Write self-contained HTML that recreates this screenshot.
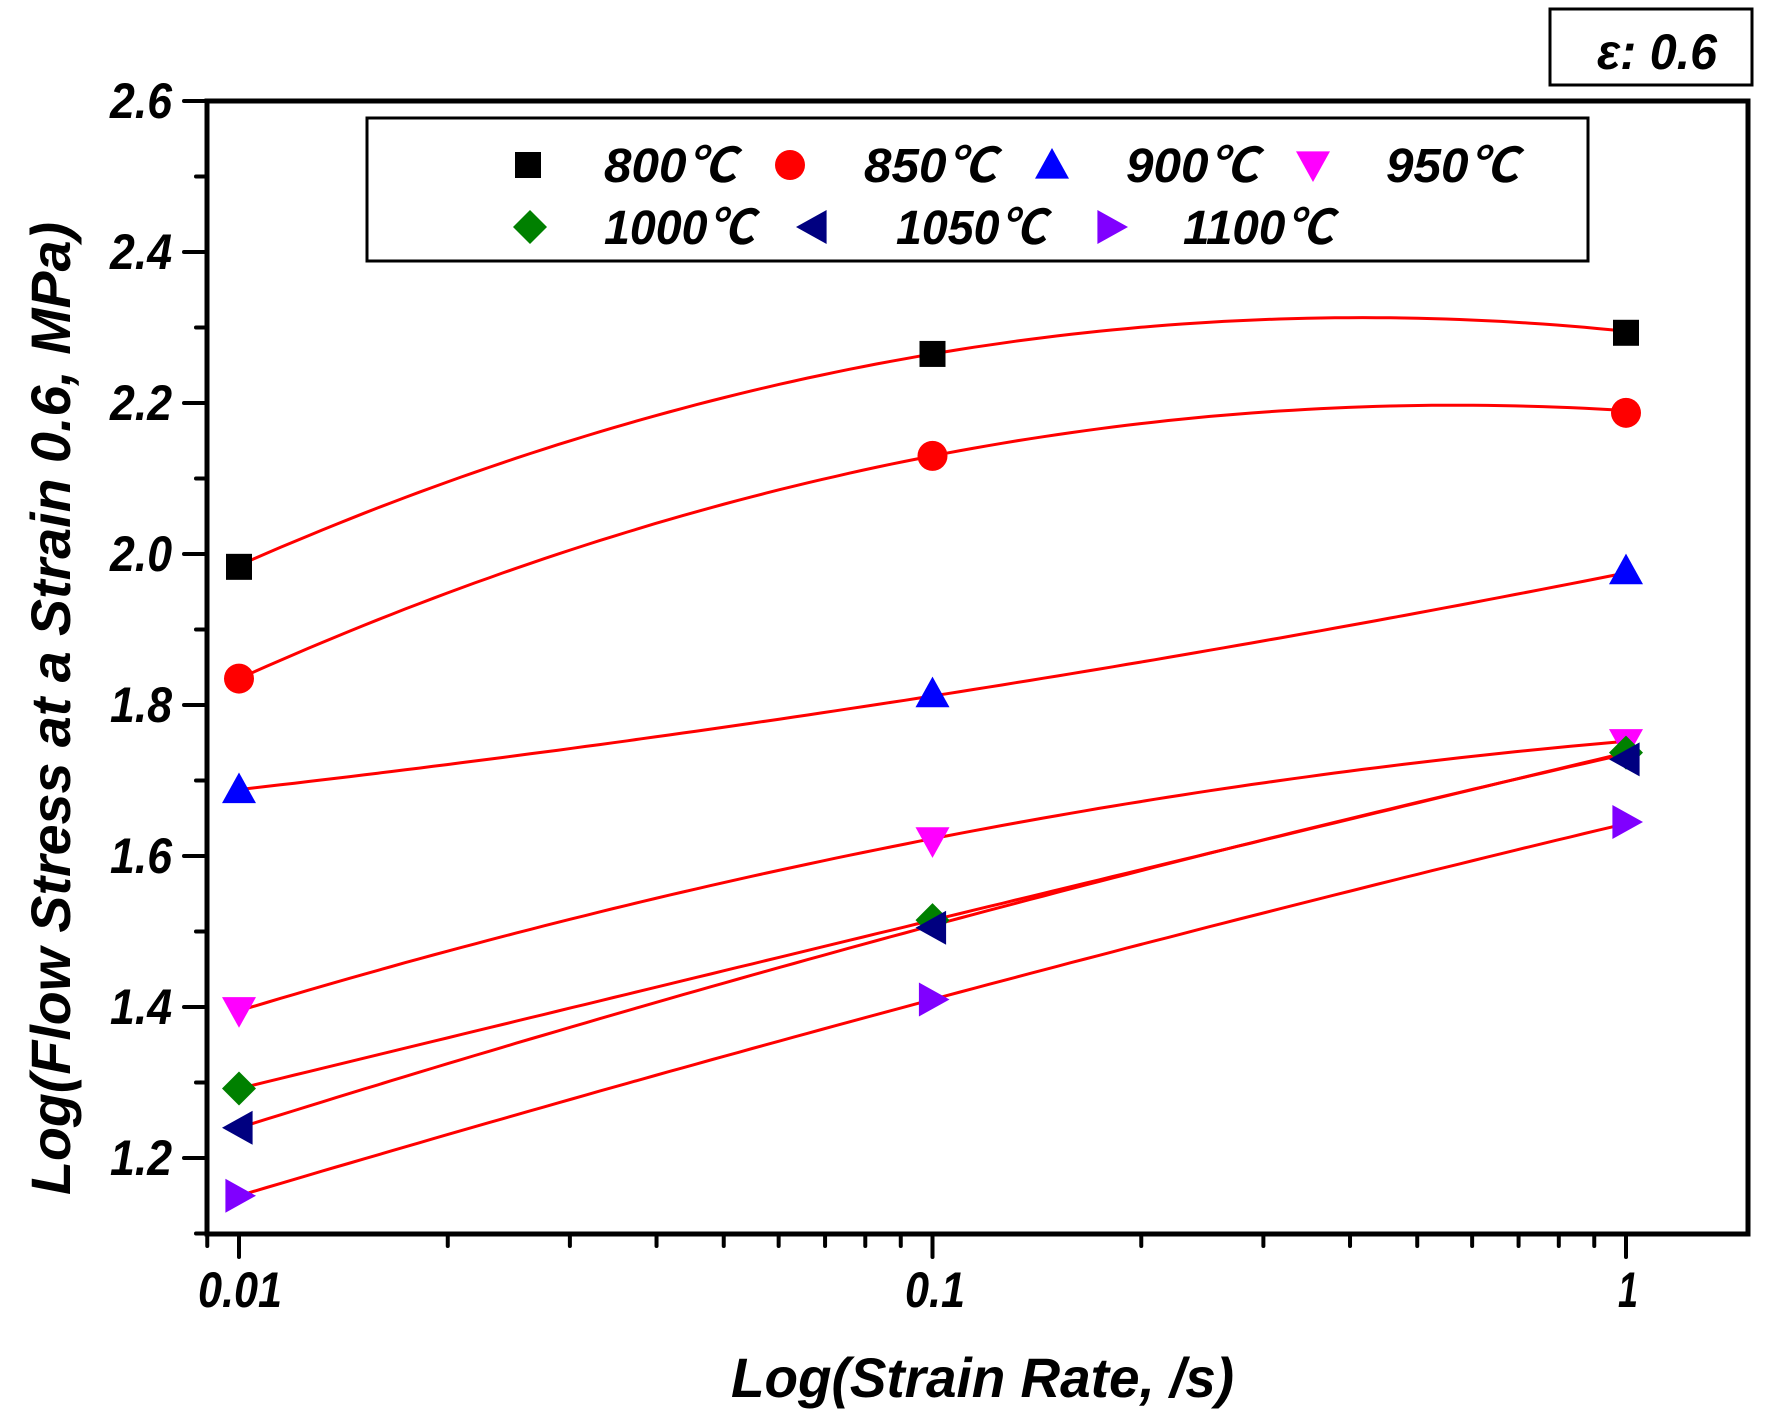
<!DOCTYPE html>
<html><head><meta charset="utf-8"><style>
html,body{margin:0;padding:0;background:#fff;}
svg{display:block;}
text{font-family:"Liberation Sans","Noto Sans CJK SC",sans-serif;font-weight:bold;font-style:italic;fill:#000;}
</style></head><body>
<svg id="s" width="1769" height="1421" viewBox="0 0 1769 1421" xmlns="http://www.w3.org/2000/svg">
<rect width="1769" height="1421" fill="#fff"/>
<g id="ax" stroke="#000" stroke-width="5" fill="none">
<rect x="207" y="101" width="1541" height="1133"/>
</g>
<g id="ticks" stroke="#000" stroke-width="4" stroke-linecap="round"></g>
<g id="curves" stroke="#ff0000" stroke-width="3" fill="none"></g>
<g id="marks"></g>
<g font-size="50">
<text x="172" y="1175" text-anchor="end" textLength="62" lengthAdjust="spacingAndGlyphs">1.2</text>
<text x="172" y="1024" text-anchor="end" textLength="62" lengthAdjust="spacingAndGlyphs">1.4</text>
<text x="172" y="873" text-anchor="end" textLength="62" lengthAdjust="spacingAndGlyphs">1.6</text>
<text x="172" y="722" text-anchor="end" textLength="62" lengthAdjust="spacingAndGlyphs">1.8</text>
<text x="172" y="571" text-anchor="end" textLength="62" lengthAdjust="spacingAndGlyphs">2.0</text>
<text x="172" y="420" text-anchor="end" textLength="62" lengthAdjust="spacingAndGlyphs">2.2</text>
<text x="172" y="269" text-anchor="end" textLength="62" lengthAdjust="spacingAndGlyphs">2.4</text>
<text x="172" y="118" text-anchor="end" textLength="62" lengthAdjust="spacingAndGlyphs">2.6</text>
<text x="240" y="1307" text-anchor="middle" textLength="84" lengthAdjust="spacingAndGlyphs">0.01</text>
<text x="935" y="1307" text-anchor="middle" textLength="60" lengthAdjust="spacingAndGlyphs">0.1</text>
<text x="1628" y="1307" text-anchor="middle" textLength="20" lengthAdjust="spacingAndGlyphs">1</text>
</g>
<text x="731" y="1397" font-size="56" textLength="503" lengthAdjust="spacingAndGlyphs">Log(Strain Rate, /s)</text>
<text transform="translate(70,1195) rotate(-90)" font-size="56" textLength="973" lengthAdjust="spacingAndGlyphs">Log(Flow Stress at a Strain 0.6, MPa)</text>
<rect x="1550" y="9" width="202" height="76" fill="none" stroke="#000" stroke-width="3"/>
<text x="1597" y="69" font-size="50" textLength="120" lengthAdjust="spacingAndGlyphs">ε: 0.6</text>
<rect x="367" y="118" width="1221" height="143" fill="none" stroke="#000" stroke-width="3"/>
<g id="leg" font-size="48"></g>
</svg>
<script>
var NS="http://www.w3.org/2000/svg";
function X(r){return 239+(Math.log10(r)+2)*693.5;}
function Y(v){return 101+(2.6-v)*755;}
function el(p,t,a){var e=document.createElementNS(NS,t);for(var k in a)e.setAttribute(k,a[k]);p.appendChild(e);return e;}
var tk=document.getElementById('ticks');
var xs=[0.009];for(var d of [0.01,0.1])for(var i=1;i<=9;i++)xs.push(d*i);xs.push(1);
xs.forEach(function(r){var x=X(r);var maj=Math.abs(Math.log10(r)-Math.round(Math.log10(r)))<1e-6;el(tk,'line',{x1:x,y1:1234,x2:x,y2:maj?1257:1246});});
for(var v=1.1;v<=2.61;v+=0.1){var y=Y(v);var maj=Math.abs(Math.round(v*10)%2)==0;el(tk,'line',{x1:207,y1:y,x2:maj?184:196,y2:y});}
var data=[
 ['sq','#000',[1.985,2.265,2.295],[1.983,2.265,2.293]],
 ['ci','#ff0000',[1.835,2.13,2.19],[1.835,2.13,2.187]],
 ['tu','#0000ff',[1.688,1.812,1.975],[1.688,1.815,1.978]],
 ['td','#ff00ff',[1.395,1.623,1.752],[1.395,1.62,1.75]],
 ['di','#008000',[1.292,1.515,1.737],[1.292,1.515,1.737]],
 ['tl','#000080',[1.24,1.508,1.735],[1.24,1.505,1.728]],
 ['tr','#8000ff',[1.15,1.41,1.643],[1.15,1.41,1.645]]];
function marker(p,type,col,x,y,s){
 s=s||1;
 if(type=='sq')el(p,'rect',{x:x-13*s,y:y-13*s,width:26*s,height:26*s,fill:col});
 else if(type=='ci')el(p,'circle',{cx:x,cy:y,r:15*s,fill:col});
 else{var pts;var a=17*s,b=16*s;
  if(type=='tu')pts=[[x,y-a],[x+a,y+b*0.85],[x-a,y+b*0.85]];
  if(type=='td')pts=[[x,y+a],[x+a,y-b*0.85],[x-a,y-b*0.85]];
  if(type=='tl')pts=[[x-a,y],[x+b*0.85,y-a],[x+b*0.85,y+a]];
  if(type=='tr')pts=[[x+a,y],[x-b*0.85,y-a],[x-b*0.85,y+a]];
  if(type=='di')pts=[[x,y-a],[x+a,y],[x,y+a],[x-a,y]];
  el(p,'polygon',{points:pts.map(function(q){return q.join(',')}).join(' '),fill:col});}
}
var cg=document.getElementById('curves'),mg=document.getElementById('marks');
data.forEach(function(d){
 var m=d[3];[0.01,0.1,1].forEach(function(r,i){marker(mg,d[0],d[1],X(r),Y(m[i]));});
});
data.forEach(function(d){
 var f=d[2];var a=f[0],c=(f[2]-2*f[1]+f[0])/2,b=f[1]-f[0]-c;var pts=[];
 for(var i=0;i<=100;i++){var u=i/50;pts.push((239+u*693.5).toFixed(1)+','+Y(a+b*u+c*u*u).toFixed(1));}
 el(cg,'polyline',{points:pts.join(' ')});
});
var lg=document.getElementById('leg');
var L=[['sq','#000',528,165,'800℃',604],['ci','#ff0000',790,165,'850℃',864],['tu','#0000ff',1052,165,'900℃',1126],['td','#ff00ff',1313,165,'950℃',1386],
['di','#008000',530,227,'1000℃',604],['tl','#000080',813,227,'1050℃',896],['tr','#8000ff',1111,227,'1100℃',1183]];
L.forEach(function(l){marker(lg,l[0],l[1],l[2],l[3],1);var t=el(lg,'text',{x:l[5],y:l[3]+17,textLength:l[4].length==4?132:150,lengthAdjust:'spacingAndGlyphs'});t.textContent=l[4];});
</script>
</body></html>
